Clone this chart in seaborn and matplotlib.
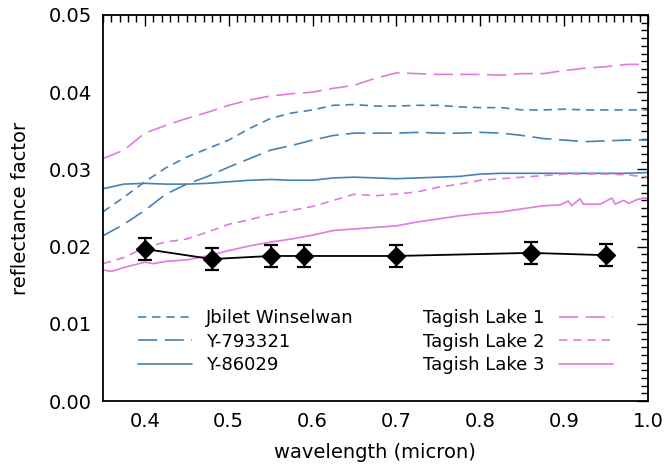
import numpy as np
import matplotlib
matplotlib.use("Agg")
import matplotlib.pyplot as plt
import seaborn as sns

# wavelength grid (micron) shared by the lab spectra
wl = [0.35, 0.375, 0.40, 0.425, 0.45, 0.475, 0.50, 0.525, 0.55, 0.575,
      0.60, 0.625, 0.65, 0.675, 0.70, 0.725, 0.75, 0.775, 0.80, 0.825,
      0.85, 0.875, 0.90, 0.925, 0.95, 0.975, 1.00]

jbilet = [0.0245, 0.0264, 0.0284, 0.0302, 0.0316, 0.0327, 0.0338, 0.0353, 0.0366, 0.0373,
          0.0377, 0.0383, 0.0384, 0.0382, 0.0382, 0.0383, 0.0383, 0.0381, 0.0380, 0.0380,
          0.0377, 0.0377, 0.0378, 0.0377, 0.0377, 0.0377, 0.0377]
y793321 = [0.0214, 0.0229, 0.0247, 0.0268, 0.0281, 0.0291, 0.0303, 0.0314, 0.0325, 0.0331,
           0.0338, 0.0344, 0.0347, 0.0347, 0.0347, 0.0348, 0.0347, 0.0347, 0.0348, 0.0347,
           0.0344, 0.0340, 0.0338, 0.0336, 0.0337, 0.0338, 0.0338]
y86029 = [0.0275, 0.0281, 0.0282, 0.0281, 0.0281, 0.0282, 0.0284, 0.0286, 0.0287, 0.0286,
          0.0286, 0.0289, 0.0290, 0.0289, 0.0288, 0.0289, 0.0290, 0.0291, 0.0294, 0.0295,
          0.0295, 0.0295, 0.0295, 0.0295, 0.0295, 0.0295, 0.0296]
tagish1 = [0.0314, 0.0325, 0.0347, 0.0357, 0.0366, 0.0374, 0.0383, 0.0390, 0.0395, 0.0398,
           0.0400, 0.0405, 0.0409, 0.0418, 0.0425, 0.0424, 0.0423, 0.0423, 0.0423, 0.0422,
           0.0424, 0.0424, 0.0428, 0.0431, 0.0433, 0.0436, 0.0436]
tagish2 = [0.0178, 0.0186, 0.0199, 0.0206, 0.0210, 0.0219, 0.0229, 0.0235, 0.0242, 0.0247,
           0.0252, 0.0260, 0.0268, 0.0266, 0.0268, 0.0271, 0.0277, 0.0281, 0.0286, 0.0288,
           0.0290, 0.0292, 0.0294, 0.0294, 0.0294, 0.0293, 0.0290]

# Tagish Lake 3 is noisier at the red end, so it gets its own grid
wl_t3 = [0.35, 0.36, 0.375, 0.40, 0.41, 0.425, 0.45, 0.475, 0.50, 0.525,
         0.55, 0.575, 0.60, 0.625, 0.65, 0.675, 0.70, 0.725, 0.75, 0.775,
         0.80, 0.825, 0.85, 0.875, 0.895, 0.905, 0.909, 0.919, 0.923, 0.943,
         0.957, 0.961, 0.971, 0.977, 0.987, 0.995, 1.00]
tagish3 = [0.0170, 0.0168, 0.0173, 0.0180, 0.0178, 0.0181, 0.0183, 0.0188, 0.0195, 0.0201,
           0.0206, 0.0210, 0.0215, 0.0221, 0.0223, 0.0225, 0.0227, 0.0232, 0.0236, 0.0240,
           0.0243, 0.0245, 0.0249, 0.0253, 0.0254, 0.0259, 0.0253, 0.0262, 0.0255, 0.0255,
           0.0263, 0.0255, 0.0260, 0.0256, 0.0261, 0.0263, 0.0262]

# observed reflectance with error bars
wl_obs = [0.40, 0.48, 0.55, 0.59, 0.70, 0.86, 0.95]
refl_obs = [0.0197, 0.0184, 0.0188, 0.0188, 0.0188, 0.0192, 0.0189]
err_obs = [0.0014, 0.0014, 0.0014, 0.0014, 0.0014, 0.0014, 0.0014]

sns.set_style("white")
plt.rcParams["font.family"] = ["DejaVu Sans"]
plt.rcParams["text.color"] = "black"
plt.rcParams["axes.labelcolor"] = "black"
plt.rcParams["xtick.color"] = "black"
plt.rcParams["ytick.color"] = "black"

blue = "#4682b4"
pink = "#e07be0"
short_dash = (0, (5.0, 3.5))
long_dash = (0, (11.5, 4.5))

fig, ax = plt.subplots(figsize=(6.68, 4.66), dpi=100)
fig.subplots_adjust(left=0.154, right=0.970, top=0.968, bottom=0.139)

lw = 1.2
sns.lineplot(x=wl, y=jbilet, color=blue, lw=lw, linestyle=short_dash, ax=ax)
sns.lineplot(x=wl, y=y793321, color=blue, lw=lw, linestyle=long_dash, ax=ax)
sns.lineplot(x=wl, y=y86029, color=blue, lw=lw, linestyle="-", ax=ax)
sns.lineplot(x=wl, y=tagish1, color=pink, lw=lw, linestyle=long_dash, ax=ax)
sns.lineplot(x=wl, y=tagish2, color=pink, lw=lw, linestyle=short_dash, ax=ax)
sns.lineplot(x=wl_t3, y=tagish3, color=pink, lw=lw, linestyle="-", ax=ax)
lines = ax.get_lines()

ax.errorbar(wl_obs, refl_obs, yerr=err_obs, color="black", marker="D", ms=9,
            lw=1.3, elinewidth=1.5, capsize=5, capthick=1.6, zorder=5)

ax.set_xlim(0.35, 1.0)
ax.set_ylim(0.0, 0.05)
ax.set_xticks([0.4, 0.5, 0.6, 0.7, 0.8, 0.9, 1.0])
ax.set_xticklabels(["0.4", "0.5", "0.6", "0.7", "0.8", "0.9", "1.0"])
ax.set_yticks([0.00, 0.01, 0.02, 0.03, 0.04, 0.05])
ax.set_yticklabels(["0.00", "0.01", "0.02", "0.03", "0.04", "0.05"])
ax.set_xticks(np.arange(0.35, 1.0001, 0.01), minor=True)
ax.set_yticks(np.arange(0.0, 0.05001, 0.001), minor=True)
ax.tick_params(which="both", direction="in", top=True, right=True, width=1.0,
               color="black", labelcolor="black")
ax.tick_params(which="major", length=8, labelsize=14, pad=8)
ax.tick_params(which="minor", length=5)
for sp in ax.spines.values():
    sp.set_color("black")
    sp.set_linewidth(1.3)

ax.set_xlabel("wavelength (micron)", fontsize=14, color="black")
ax.set_ylabel("reflectance factor", fontsize=14, color="black")
ax.xaxis.set_label_coords(0.5, -0.108)
ax.yaxis.set_label_coords(-0.133, 0.5)

leg_kw = dict(frameon=False, fontsize=13, handlelength=3.0, handletextpad=0.8,
              labelspacing=0.3, borderpad=0, borderaxespad=0, labelcolor="black")
leg1 = ax.legend(lines[:3], ["Jbilet Winselwan", "Y-793321", "Y-86029"],
                 loc="upper left", bbox_to_anchor=(0.064, 0.238), **leg_kw)
ax.add_artist(leg1)
ax.legend(lines[3:6], ["Tagish Lake 1", "Tagish Lake 2", "Tagish Lake 3"],
          loc="upper right", bbox_to_anchor=(0.936, 0.238), markerfirst=False, **leg_kw)

fig.savefig("out.png", dpi=100)
